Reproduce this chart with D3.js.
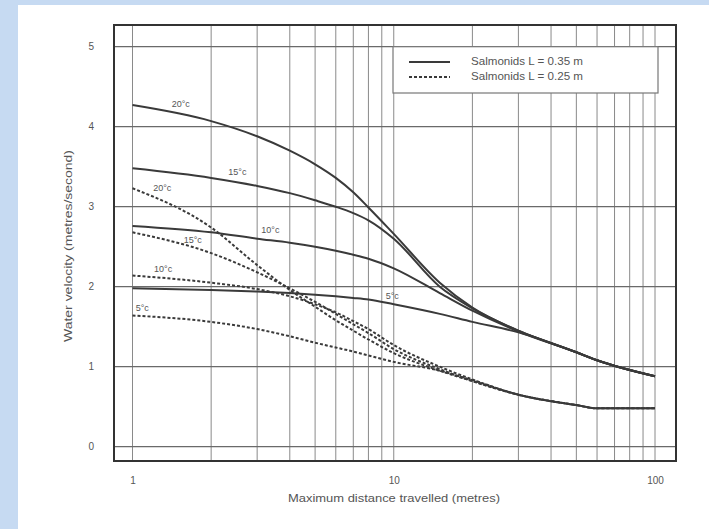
<!DOCTYPE html>
<html>
<head>
<meta charset="utf-8">
<script src="https://cdn.jsdelivr.net/npm/d3@7/dist/d3.min.js"></script>
<style>
html,body{margin:0;padding:0;background:#c6daf2;}
svg{display:block;}
text{font-family:"Liberation Sans",Arial,sans-serif;fill:#555;}
</style>
</head>
<body>
<script>
// ---- data ----
const distances = [1, 2, 3, 4, 5, 6, 7, 8, 10, 15, 20, 30, 50, 60, 100];
const solid20 = [4.27, 4.07, 3.88, 3.70, 3.53, 3.36, 3.18, 2.99, 2.66, 2.05, 1.74, 1.45, 1.18, 1.08, 0.88];
const solid15 = [3.48, 3.36, 3.26, 3.17, 3.08, 3.00, 2.92, 2.83, 2.60, 2.00, 1.73, 1.45, 1.18, 1.08, 0.88];
const solid10 = [2.76, 2.68, 2.60, 2.55, 2.50, 2.45, 2.40, 2.35, 2.23, 1.92, 1.70, 1.44, 1.18, 1.08, 0.88];
const solid5  = [1.98, 1.96, 1.94, 1.92, 1.90, 1.88, 1.86, 1.84, 1.78, 1.66, 1.56, 1.43, 1.18, 1.08, 0.88];
const dashed20 = [3.23, 2.74, 2.27, 1.96, 1.75, 1.58, 1.45, 1.34, 1.17, 0.95, 0.82, 0.65, 0.52, 0.48, 0.48];
const dashed15 = [2.68, 2.42, 2.18, 1.98, 1.81, 1.66, 1.53, 1.42, 1.22, 0.97, 0.82, 0.65, 0.52, 0.48, 0.48];
const dashed10 = [2.14, 2.05, 1.97, 1.88, 1.78, 1.68, 1.57, 1.47, 1.27, 1.00, 0.84, 0.65, 0.52, 0.48, 0.48];
const dashed5  = [1.64, 1.56, 1.47, 1.38, 1.30, 1.24, 1.19, 1.14, 1.06, 0.95, 0.83, 0.65, 0.52, 0.48, 0.48];
const seriesNames = ["solid20", "solid15", "solid10", "solid5", "dashed20", "dashed15", "dashed10", "dashed5"];
const curveLabels = ["20°c", "15°c", "10°c", "5°c", "20°c", "15°c", "10°c", "5°c"];
const labelDist = [1.53, 2.52, 3.37, 9.87, 1.30, 1.70, 1.31, 1.09];
const labelVel  = [4.27, 3.43, 2.70, 1.87, 3.23, 2.57, 2.21, 1.73];
const yTicks = [0, 1, 2, 3, 4, 5];
const xTickLabels = [1, 10, 100];
const legendLabels = ["Salmonids L = 0.35 m", "Salmonids L = 0.25 m"];
const xTitle = "Maximum distance travelled (metres)";
const yTitle = "Water velocity (metres/second)";

// ---- layout ----
const W = 709, H = 529;
const svg = d3.select("body").append("svg").attr("width", W).attr("height", H);
svg.append("rect").attr("x", 18).attr("y", 5).attr("width", W - 18).attr("height", H - 5).attr("fill", "#fff");

const frame = {left: 114, right: 676, top: 25, bottom: 461};
const x = d3.scaleLog().domain([1, 100]).range([132.5, 655]);
const y = d3.scaleLinear().domain([0, 5]).range([446.7, 46.7]);

// grid
const xGrid = [];
for (let dec = 1; dec <= 10; dec *= 10) for (let k = 1; k <= 9; k++) xGrid.push(k * dec);
xGrid.push(100);
const g = svg.append("g");
g.selectAll("line.vg").data(xGrid).join("line")
  .attr("x1", d => x(d)).attr("x2", d => x(d))
  .attr("y1", frame.top).attr("y2", frame.bottom)
  .attr("stroke", "#8a8a8a").attr("stroke-width", 1);
g.selectAll("line.hg").data(yTicks).join("line")
  .attr("x1", frame.left).attr("x2", frame.right)
  .attr("y1", d => y(d)).attr("y2", d => y(d))
  .attr("stroke", "#6a6a6a").attr("stroke-width", 1.2);

// frame
svg.append("rect").attr("x", frame.left).attr("y", frame.top)
  .attr("width", frame.right - frame.left).attr("height", frame.bottom - frame.top)
  .attr("fill", "none").attr("stroke", "#333").attr("stroke-width", 2);

// axes labels (ticks)
const yAxis = d3.axisLeft(y).tickValues(yTicks).tickSize(0).tickPadding(0).tickFormat(d3.format("d"));
const ya = svg.append("g").attr("transform", "translate(94,0)").call(yAxis);
ya.select(".domain").remove();
ya.selectAll("text").attr("font-size", 10).attr("fill", "#555").attr("font-family", "Liberation Sans, Arial, sans-serif");

const xAxis = d3.axisBottom(x).tickValues(xTickLabels).tickSize(0).tickPadding(0).tickFormat(d3.format("d"));
const xa = svg.append("g").attr("transform", "translate(0,477)").call(xAxis);
xa.select(".domain").remove();
xa.selectAll("text").attr("font-size", 10).attr("fill", "#555").attr("font-family", "Liberation Sans, Arial, sans-serif");

// titles
svg.append("text").attr("x", 394).attr("y", 502).attr("text-anchor", "middle")
  .attr("font-size", 11).attr("textLength", 212).attr("lengthAdjust", "spacingAndGlyphs").text(xTitle);
svg.append("text").attr("transform", "translate(72,246) rotate(-90)").attr("text-anchor", "middle")
  .attr("font-size", 11).attr("textLength", 192).attr("lengthAdjust", "spacingAndGlyphs").text(yTitle);

// curves
const allSeries = [solid20, solid15, solid10, solid5, dashed20, dashed15, dashed10, dashed5];
const line = d3.line().x((d, i) => x(distances[i])).y(d => y(d)).curve(d3.curveMonotoneX);
svg.append("g").selectAll("path").data(allSeries).join("path")
  .attr("d", d => line(d))
  .attr("fill", "none")
  .attr("stroke", "#3a3a3a")
  .attr("stroke-width", 2)
  .attr("stroke-dasharray", (d, i) => seriesNames[i].startsWith("dashed") ? "3,2" : null);

// curve labels
svg.append("g").selectAll("text").data(curveLabels).join("text")
  .attr("x", (d, i) => x(labelDist[i])).attr("y", (d, i) => y(labelVel[i]))
  .attr("text-anchor", "middle").attr("dominant-baseline", "middle")
  .attr("font-size", 9).attr("fill", "#444").text(d => d);

// legend
const lg = svg.append("g");
lg.append("rect").attr("x", 393).attr("y", y(5)).attr("width", 265).attr("height", 93 - y(5))
  .attr("fill", "#fff").attr("stroke", "#777").attr("stroke-width", 1.2);
legendLabels.forEach((t, i) => {
  const yy = 62 + i * 15;
  lg.append("line").attr("x1", 409).attr("x2", 450).attr("y1", yy).attr("y2", yy)
    .attr("stroke", "#3a3a3a").attr("stroke-width", 2)
    .attr("stroke-dasharray", i === 1 ? "3,2" : null);
  lg.append("text").attr("x", 471).attr("y", yy).attr("dominant-baseline", "middle")
    .attr("font-size", 11).attr("fill", "#777").attr("textLength", 112).attr("lengthAdjust", "spacingAndGlyphs").text(t);
});
</script>
</body>
</html>
